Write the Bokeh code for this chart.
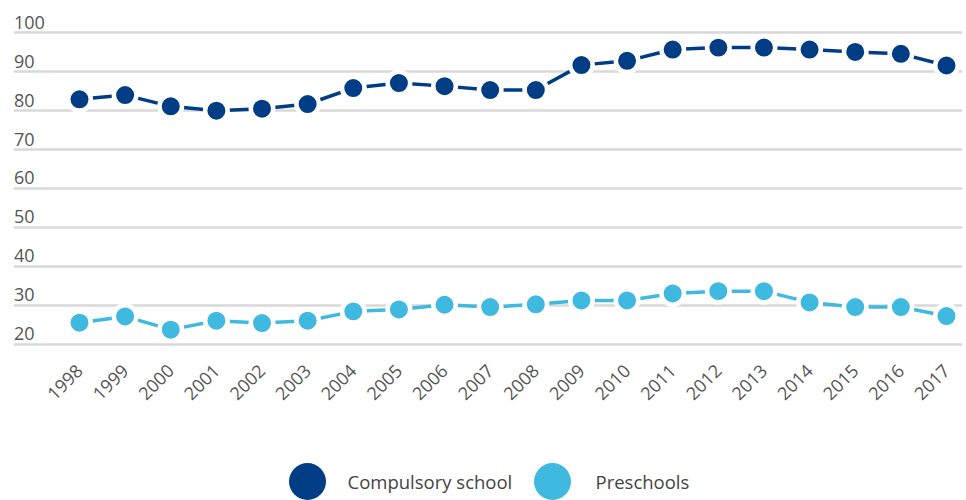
from math import pi
from bokeh.plotting import figure
from bokeh.layouts import column
from bokeh.models import Range1d, FixedTicker
from bokeh.core.properties import value
from bokeh.embed import file_html
from bokeh.resources import INLINE

years = [1998, 1999, 2000, 2001, 2002, 2003, 2004, 2005, 2006, 2007,
         2008, 2009, 2010, 2011, 2012, 2013, 2014, 2015, 2016, 2017]
compulsory = [82.9, 84.0, 81.1, 80.0, 80.5, 81.7, 85.8, 87.1, 86.3, 85.3,
              85.3, 91.7, 92.8, 95.7, 96.2, 96.2, 95.7, 95.1, 94.6, 91.6]
preschools = [25.5, 27.1, 23.7, 26.0, 25.4, 26.0, 28.4, 28.9, 30.1, 29.5,
              30.2, 31.2, 31.2, 33.0, 33.6, 33.6, 30.7, 29.5, 29.5, 27.2]
series_names = ["Compulsory school", "Preschools"]
y_ticks = [20, 30, 40, 50, 60, 70, 80, 90, 100]

colors = ["#003d84", "#40b9e0"]
FONT = "Open Sans"
LABEL_COLOR = "#555555"

FRAME_L, FRAME_R = 13, 962   # page-pixel extent of the plot frames

p = figure(width=966, height=408, output_backend="svg", toolbar_location=None,
           x_range=Range1d(1996.554, 2017.351), y_range=Range1d(19.11, 104.97),
           y_axis_location=None,
           min_border_left=FRAME_L, min_border_right=966 - FRAME_R,
           min_border_top=13, min_border_bottom=58)
p.outline_line_color = None
p.xgrid.grid_line_color = None
p.ygrid.ticker = FixedTicker(ticks=y_ticks)
p.ygrid.grid_line_color = "#d9d9d9"
p.ygrid.grid_line_width = 2.5

xa = p.xaxis[0]
xa.ticker = FixedTicker(ticks=years)
xa.major_label_orientation = pi / 4
xa.axis_line_color = None
xa.major_tick_line_color = None
xa.minor_tick_line_color = None
xa.major_label_text_font = FONT
xa.major_label_text_font_size = "18px"
xa.major_label_text_color = LABEL_COLOR
xa.major_label_standoff = 14

# y tick labels drawn above the gridlines
p.text(x=[p.x_range.start] * len(y_ticks), y=y_ticks, text=[str(t) for t in y_ticks],
       text_font=value(FONT), text_font_size="18px", text_color=LABEL_COLOR,
       text_baseline="bottom", text_align="left", x_offset=0.5, y_offset=-4)

for vals, c in zip([compulsory, preschools], colors):
    p.line(years, vals, line_color=c, line_width=3.5)
    p.scatter(years, vals, size=22.5, fill_color=c, line_color="white", line_width=4.5)

# legend strip (x in page pixels, frame aligned with the chart frame)
lg = figure(width=966, height=92, output_backend="svg", toolbar_location=None,
            x_range=Range1d(FRAME_L, FRAME_R), y_range=Range1d(92, 0),
            x_axis_location=None, y_axis_location=None,
            min_border_left=FRAME_L, min_border_right=966 - FRAME_R,
            min_border_top=0, min_border_bottom=0)
lg.outline_line_color = None
lg.grid.visible = False
leg_cx = [307, 552]
leg_tx = [347, 595]
leg_y = 73
lg.scatter(leg_cx, [leg_y] * 2, size=37, fill_color=colors, line_color=None)
lg.text(x=leg_tx, y=[leg_y] * 2, text=series_names, text_font=value(FONT),
        text_font_size="18.5px", text_color="#444444", text_baseline="middle", text_align="left")

layout = column(p, lg, spacing=0)
open("out.html", "w").write(file_html(layout, INLINE))
